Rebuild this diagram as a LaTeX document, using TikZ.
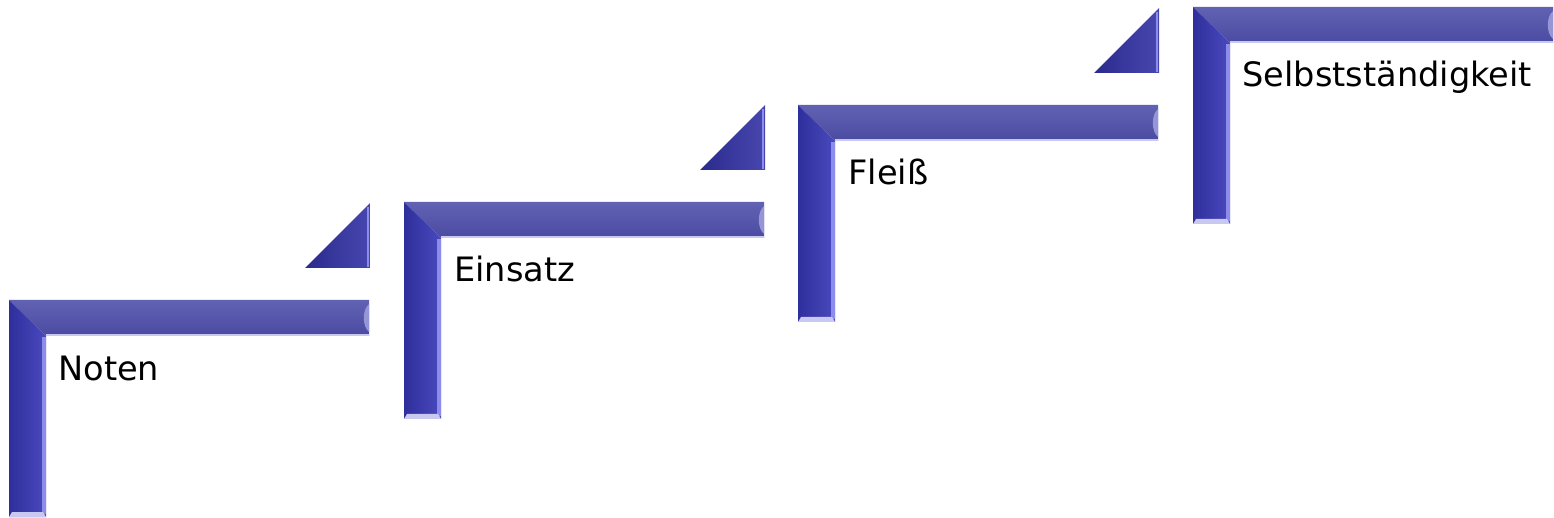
\documentclass[tikz,border=0pt]{standalone}
\usepackage{fontspec}
\setmainfont{DejaVu Sans}
\usepackage{xcolor}
\usetikzlibrary{positioning}
\definecolor{bartop}{RGB}{98,98,180}
\definecolor{barbot}{RGB}{74,74,162}
\definecolor{vdark}{RGB}{46,46,156}
\definecolor{vlite}{RGB}{74,74,190}
\definecolor{vedge}{RGB}{140,140,236}
\definecolor{barlight}{RGB}{200,200,240}
\definecolor{capblue}{RGB}{150,150,214}
\definecolor{wedgeblue}{RGB}{50,50,166}
\tikzset{
  % Stair bar: horizontal and vertical part, mitred corner
  stair/.pic={
    \shade[top color=bartop, bottom color=barbot]
      (0,0) -- (360,0) -- (360,36) -- (37,36) -- cycle;
    \shade[left color=vdark, right color=vlite]
      (0,0) -- (37,36) -- (37,217) -- (0,217) -- cycle;
    \draw[barlight, line width=1pt] (37,35) -- (360,35);
    \draw[vedge, line width=2pt] (35,37) -- (35,214);
    \fill[capblue] (360,4) .. controls (353,10) and (353,26) .. (360,32) -- cycle;
    \fill[barlight] (3,212) -- (34,212) -- (37,217) -- (0,217) -- cycle;
  },
  % Small wedge above the bar end
  wedge/.pic={
    \shade[left color=wedgeblue!85!black, right color=wedgeblue!90!white]
      (296,-32) -- (361,-32) -- (361,-97) -- cycle;
    \draw[vedge, line width=1pt] (359,-93) -- (359,-33);
  },
  % Label text
  lbl/.style={
    anchor=base west, inner sep=0pt,
    font=\fontsize{16.8}{20}\selectfont
  },
}
\begin{document}
\begin{tikzpicture}[x=0.5pt, y=-0.5pt]
  \useasboundingbox (0,0) rectangle (1554,518);

  \pic at (9,300) {stair};
  \pic at (404,202) {stair};
  \pic at (798,105) {stair};
  \pic at (1193,7) {stair};

  \pic at (9,300) {wedge};
  \pic at (404,202) {wedge};
  \pic at (798,105) {wedge};

  \node (noten) [lbl] at (58,380) {Noten};
  \node (einsatz) [lbl] at (454,282) {Einsatz};
  \node (fleiss) [lbl] at (848,185) {Fleiß};
  \node (selbst) [lbl] at (1242,87) {Selbstständigkeit};
\end{tikzpicture}
\end{document}
